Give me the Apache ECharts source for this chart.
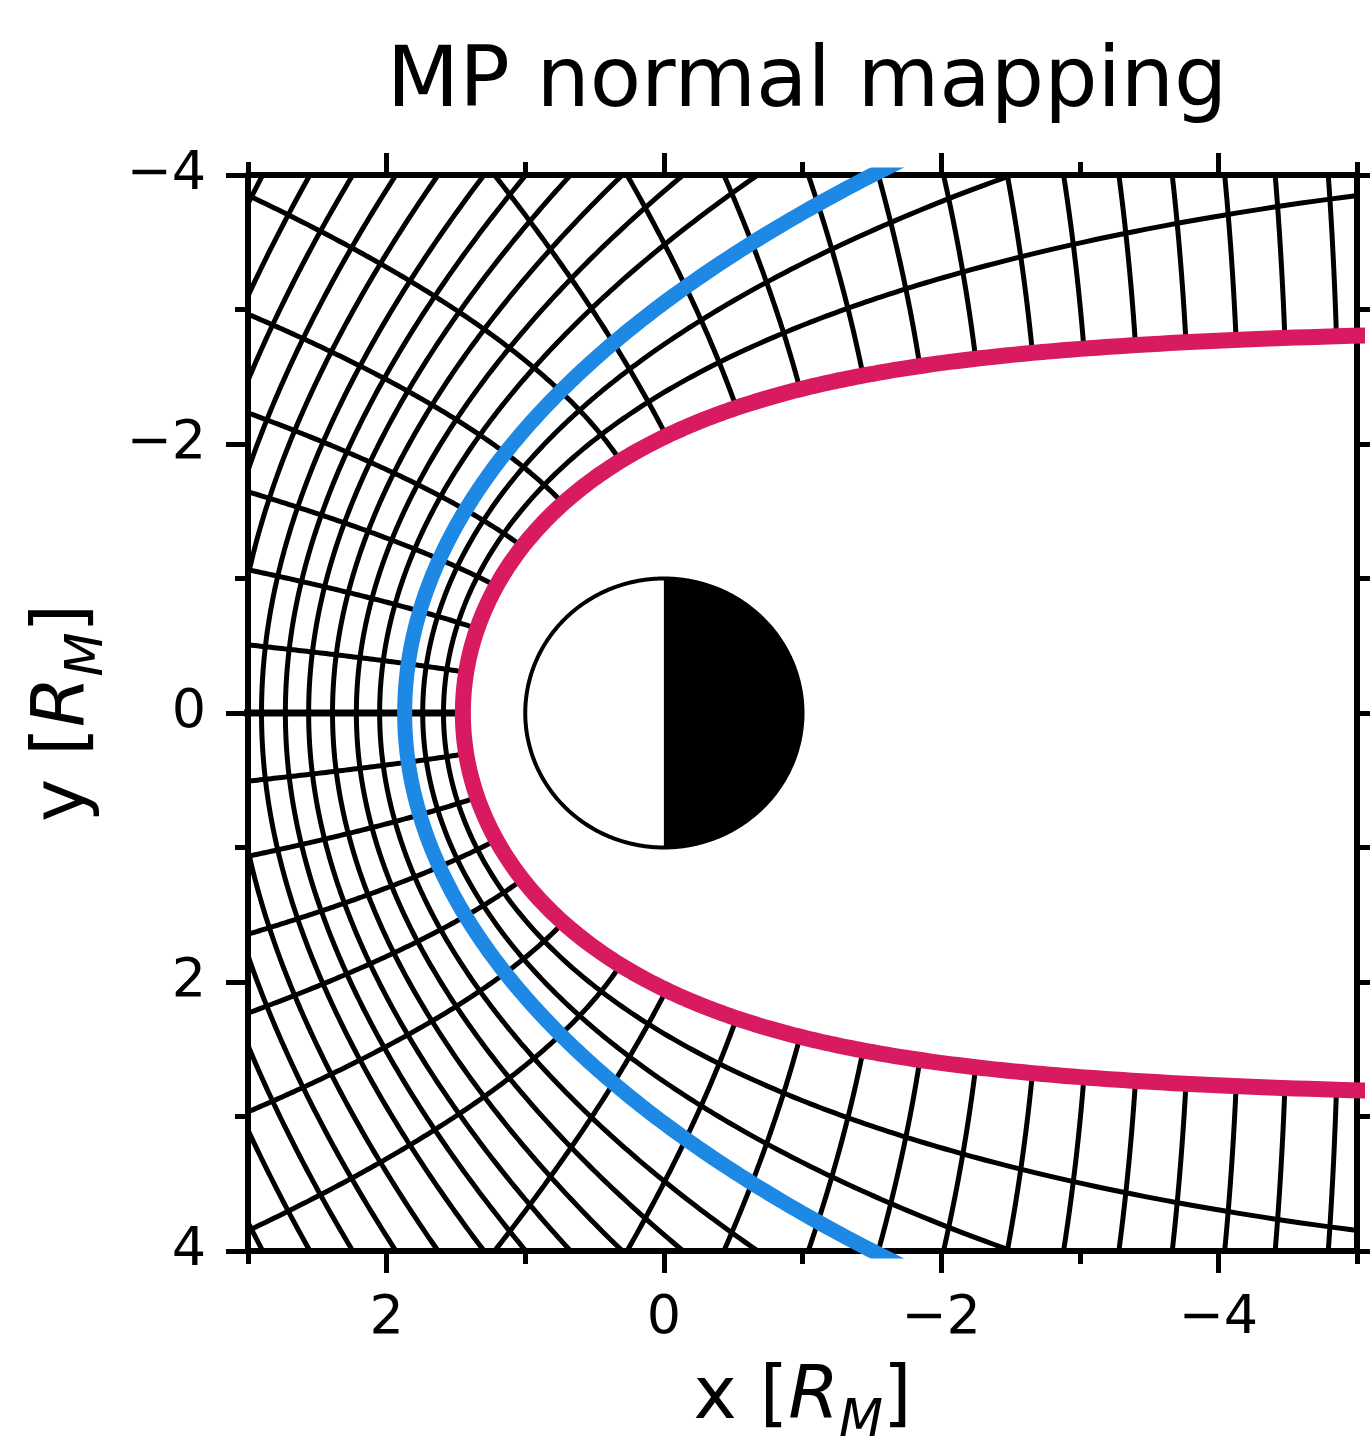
<!DOCTYPE html>
<html><head><meta charset="utf-8">
<script src="https://cdn.jsdelivr.net/npm/echarts@6/dist/echarts.min.js"></script>
<style>html,body{margin:0;padding:0;background:#fff;overflow:hidden}#c{width:1370px;height:1440px}</style>
</head><body><div id="c"></div>
<script>
// ---------------- values ----------------
const chartTitle = 'MP normal mapping';
const xRange = [-5, 3];
const yRange = [-4, 4];
const xMajorTicks = [-4, -2, 0, 2];
const xMinorTicks = [-5, -3, -1, 1, 3];
const yMajorTicks = [-4, -2, 0, 2, 4];
const yMinorTicks = [-3, -1, 1, 3];
// magnetopause (Shue-type): subsolar distance, flaring exponent
const mpNose = [1.45];
const mpFlaring = [0.5];
// bow shock conic: focus x, eccentricity, semi-latus rectum
const bsFocus = [0.5];
const bsEccentricity = [0.92];
const bsSemiLatus = [2.63];
// grid shells: position between MP (0) and bow shock (1)
const shellLevels = [0.333, 0.69, 1.0, 1.43, 1.83, 2.24, 2.65, 3.05, 3.46, 3.95, 4.43, 4.95, 5.49, 6.11];
// normal lines: polar angle (deg) of their foot point on the MP
const dayNormalFeet = [0, 12, 25, 38, 50.5, 65, 80.5];
const flankNormalFeet = [90.5, 103, 112.2, 119.8, 125.6, 130.5, 134.8, 138.2, 141.2, 143.8, 146.1, 148.1, 150.0];
const planetRadius = [1];

// ---------------- geometry helpers ----------------
const D2R = Math.PI / 180;
const inFrame = (x, y) => x <= xRange[1] + 0.05 && x >= xRange[0] - 0.05 && Math.abs(y) <= yRange[1] + 0.05;
function rMP(th) { return mpNose[0] * Math.pow(2 / (1 + Math.cos(th)), mpFlaring[0]); }
function rBS(th) {
  const c = Math.cos(th), e = bsEccentricity[0], L = bsSemiLatus[0], x0 = bsFocus[0];
  const A = 1 - e * e * c * c, B = 2 * c * (L * e - (1 - e * e) * x0), C = (1 - e * e) * x0 * x0 - 2 * L * e * x0 - L * L;
  return (-B + Math.sqrt(B * B - 4 * A * C)) / (2 * A);
}
function sField(x, y) {
  const th = Math.atan2(Math.abs(y), x), r = Math.hypot(x, y);
  const a = rMP(th), b = rBS(th);
  return (r - a) / (b - a);
}
function grad(x, y) {
  const h = 1e-4;
  return [(sField(x + h, y) - sField(x - h, y)) / (2 * h), (sField(x, y + h) - sField(x, y - h)) / (2 * h)];
}
function shellCurve(s) {
  const pts = [];
  for (let t = -172; t <= 172; t += 0.5) {
    const th = t * D2R, a = rMP(th), b = rBS(th), r = a + s * (b - a);
    pts.push([r * Math.cos(th), r * Math.sin(th)]);
  }
  return pts;
}
// dayside normals: follow the gradient of the shell field
function dayNormal(deg, sign) {
  const th = deg * D2R, r0 = rMP(th);
  let x = r0 * Math.cos(th), y = r0 * Math.sin(th);
  const pts = [[x, sign * y]], h = 0.01;
  for (let i = 0; i < 5000; i++) {
    let g = grad(x, y), n = Math.hypot(g[0], g[1]);
    const mx = x + 0.5 * h * g[0] / n, my = y + 0.5 * h * g[1] / n;
    g = grad(mx, my); n = Math.hypot(g[0], g[1]);
    x += h * g[0] / n; y += h * g[1] / n;
    if (i % 2 === 1) pts.push([x, sign * y]);
    if (!inFrame(x, y)) { pts.push([x, sign * y]); break; }
  }
  return pts;
}
// flank normals: normals of the self-similar MP surfaces, r sin^4(theta/2) = const
function flankNormal(deg, sign) {
  const u0 = deg * D2R / 2, K = rMP(2 * u0) * Math.pow(Math.sin(u0), 4);
  const pts = [];
  for (let t = deg; t > 1; t -= 0.1) {
    const u = t * D2R / 2, r = K / Math.pow(Math.sin(u), 4), x = r * Math.cos(2 * u), y = r * Math.sin(2 * u);
    pts.push([x, sign * y]);
    if (!inFrame(x, y)) break;
  }
  return pts;
}
function mpCurve() {
  const pts = [];
  for (let t = -172; t <= 172; t += 0.5) { const th = t * D2R, r = rMP(th); pts.push([r * Math.cos(th), r * Math.sin(th)]); }
  return pts;
}
function bsCurve() {
  const pts = [], e = bsEccentricity[0], L = bsSemiLatus[0], x0 = bsFocus[0];
  for (let t = -178; t <= 178; t += 0.5) { const ph = t * D2R, r = L / (1 + e * Math.cos(ph)); pts.push([x0 + r * Math.cos(ph), r * Math.sin(ph)]); }
  return pts;
}

// ---------------- series ----------------
const series = [];
function lineSeries(data, color, width, z) {
  return { type: 'line', data, showSymbol: false, symbol: 'none', silent: true, clip: true, z,
    lineStyle: { color, width, cap: 'butt', join: 'round' }, animation: false };
}
const GW = 5;
shellLevels.forEach(s => series.push(lineSeries(shellCurve(s), '#000', GW, 2)));
dayNormalFeet.forEach(a => {
  series.push(lineSeries(dayNormal(a, 1), '#000', a === 0 ? 7 : GW, 2));
  if (a !== 0) series.push(lineSeries(dayNormal(a, -1), '#000', GW, 2));
});
flankNormalFeet.forEach(a => {
  series.push(lineSeries(flankNormal(a, 1), '#000', GW, 2));
  series.push(lineSeries(flankNormal(a, -1), '#000', GW, 2));
});
series.push(lineSeries(mpCurve(), '#D81B60', 16, 4));
series.push(lineSeries(bsCurve(), '#1E88E5', 15, 4));
series.push({
  type: 'custom', coordinateSystem: 'cartesian2d', data: [[0, 0]], silent: true, z: 6, clip: false, animation: false,
  renderItem(params, api) {
    const R = planetRadius[0], day = [], night = [], ring = [];
    for (let t = -90; t <= 90; t += 1) day.push(api.coord([R * Math.cos(t * D2R), R * Math.sin(t * D2R)]));
    for (let t = 90; t <= 270; t += 1) night.push(api.coord([R * Math.cos(t * D2R), R * Math.sin(t * D2R)]));
    for (let t = 0; t < 360; t += 1) ring.push(api.coord([R * Math.cos(t * D2R), R * Math.sin(t * D2R)]));
    return { type: 'group', children: [
      { type: 'polygon', shape: { points: day }, style: { fill: '#fff' } },
      { type: 'polygon', shape: { points: night }, style: { fill: '#000' } },
      { type: 'polygon', shape: { points: ring }, style: { fill: null, stroke: '#000', lineWidth: 4 } }
    ] };
  }
});

// ---------------- axes ----------------
const FONT = 'DejaVu Sans';
const minus = v => String(v).replace('-', '\u2212');
function xAxisDef(position, ticks, len, main, labels) {
  return {
    type: 'value', gridIndex: 0, position, min: xRange[0], max: xRange[1], inverse: true,
    splitLine: { show: false },
    axisLine: { show: main, onZero: false, lineStyle: { color: '#000', width: 6 } },
    axisTick: { show: true, customValues: ticks, length: len, lineStyle: { color: '#000', width: 5 } },
    axisLabel: labels ? { show: true, customValues: ticks, formatter: minus, fontFamily: FONT, fontSize: 54, color: '#000', margin: 41 } : { show: false }
  };
}
function yAxisDef(position, ticks, len, main, labels) {
  return {
    type: 'value', gridIndex: 0, position, min: yRange[0], max: yRange[1], inverse: true,
    splitLine: { show: false },
    axisLine: { show: main, onZero: false, lineStyle: { color: '#000', width: 6 } },
    axisTick: { show: true, customValues: ticks, length: len, lineStyle: { color: '#000', width: 5 } },
    axisLabel: labels ? { show: true, customValues: ticks, formatter: minus, fontFamily: FONT, fontSize: 54, color: '#000', margin: 42 } : { show: false }
  };
}
const xAxes = [
  xAxisDef('bottom', xMajorTicks, 22, true, true),
  xAxisDef('bottom', xMinorTicks, 13, false, false),
  xAxisDef('top', xMajorTicks, 22, true, false),
  xAxisDef('top', xMinorTicks, 13, false, false)
];
const yAxes = [
  yAxisDef('left', yMajorTicks, 22, true, true),
  yAxisDef('left', yMinorTicks, 13, false, false),
  yAxisDef('right', yMajorTicks, 22, true, false),
  yAxisDef('right', yMinorTicks, 13, false, false)
];
const nameRich = {
  n: { fontFamily: FONT, fontSize: 73, color: '#000', lineHeight: 98, verticalAlign: 'middle' },
  i: { fontFamily: FONT, fontSize: 73, fontStyle: 'italic', color: '#000', lineHeight: 98, verticalAlign: 'middle' },
  s: { fontFamily: FONT, fontSize: 51, fontStyle: 'italic', color: '#000', lineHeight: 58, verticalAlign: 'bottom' }
};
Object.assign(xAxes[0], { name: '{n|x [}{i|R}{s|M}{n|]}', nameLocation: 'middle', nameGap: 99, nameTextStyle: { rich: nameRich } });
Object.assign(yAxes[0], { name: '{n|y [}{i|R}{s|M}{n|]}', nameLocation: 'middle', nameGap: 134, nameRotate: 90, nameTextStyle: { rich: nameRich } });

const chart = echarts.init(document.getElementById('c'), null, { renderer: 'canvas', width: 1370, height: 1440 });
chart.setOption({
  animation: false,
  backgroundColor: '#fff',
  title: { text: chartTitle, left: 802, top: 37, textAlign: 'center',
    textStyle: { fontFamily: FONT, fontSize: 84, fontWeight: 'normal', color: '#000' } },
  grid: { left: 248, top: 175, width: 1109, height: 1076, containLabel: false, outerBoundsMode: 'none' },
  xAxis: xAxes,
  yAxis: yAxes,
  series
});
</script>
</body></html>
